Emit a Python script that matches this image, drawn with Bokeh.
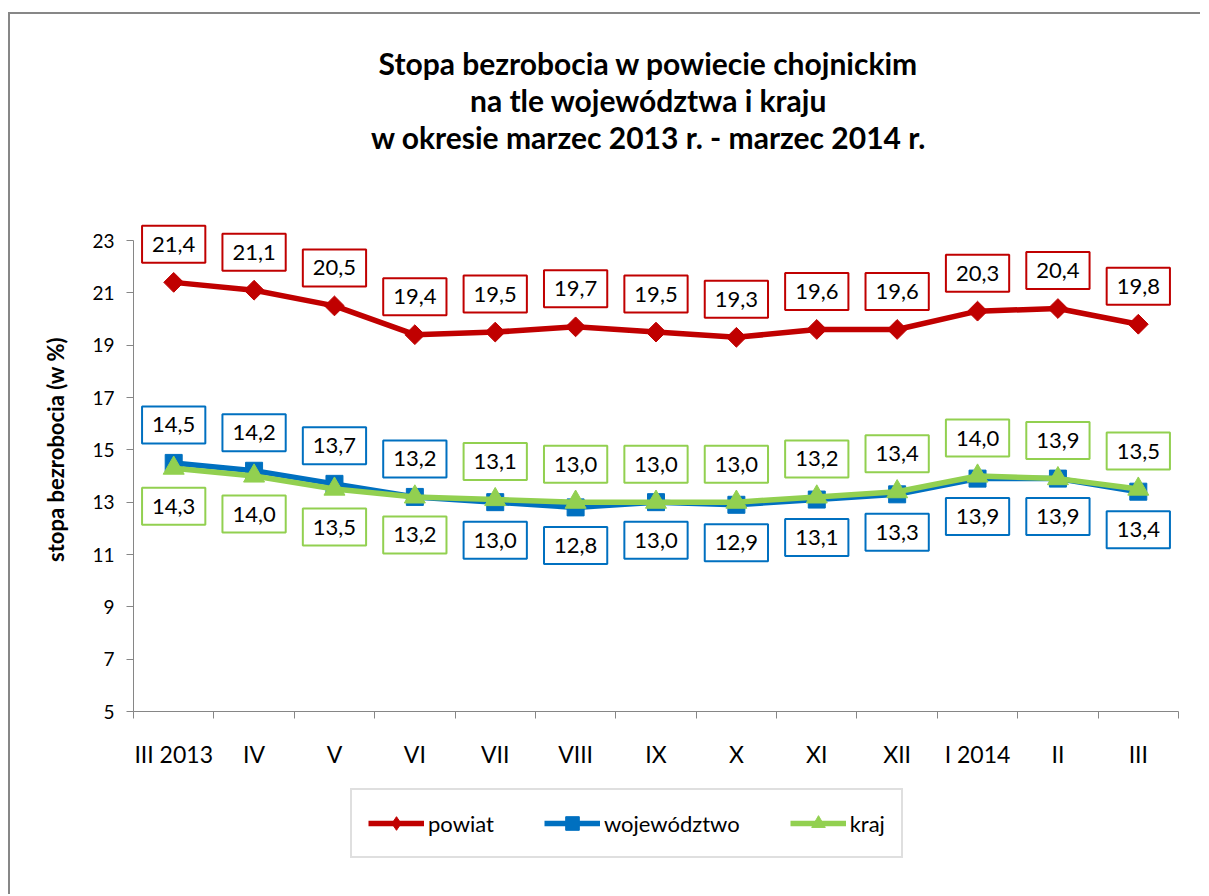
import numpy as np
from bokeh.plotting import figure
from bokeh.layouts import column
from bokeh.models import (ColumnDataSource, Legend, LegendItem, FixedTicker, Range1d,
                          Label, Text)
from bokeh.core.properties import value
from bokeh.embed import file_html
from bokeh.resources import INLINE

# ---------------- data ----------------
months = ["III 2013", "IV", "V", "VI", "VII", "VIII", "IX", "X", "XI", "XII",
          "I 2014", "II", "III"]
powiat = [21.4, 21.1, 20.5, 19.4, 19.5, 19.7, 19.5, 19.3, 19.6, 19.6, 20.3, 20.4, 19.8]
wojewodztwo = [14.5, 14.2, 13.7, 13.2, 13.0, 12.8, 13.0, 12.9, 13.1, 13.3, 13.9, 13.9, 13.4]
kraj = [14.3, 14.0, 13.5, 13.2, 13.1, 13.0, 13.0, 13.0, 13.2, 13.4, 14.0, 13.9, 13.5]
series_names = ["powiat", "województwo", "kraj"]
title_lines = ["Stopa bezrobocia w powiecie chojnickim",
               "na tle województwa i kraju",
               "w okresie marzec 2013 r. - marzec 2014 r."]
y_axis_title = "stopa bezrobocia (w %)"
y_ticks = list(range(5, 24, 2))
y_min, y_max = 5, 23

# ---------------- style / geometry ----------------
RED, BLUE, GREEN = "#C00000", "#0070C0", "#92D050"
AXIS_GRAY = "#868686"
FONT = "Lato"

W = 1190
TITLE_H = 173           # strip holding the three title lines
FRAME_H = 524           # chart frame (value 5 at its bottom, head-room above 23)
CHART_H = FRAME_H + 73
LEGEND_H = 110
PX_PER_UNIT = 471 / (y_max - y_min)
y_top = y_min + FRAME_H / PX_PER_UNIT
n = len(months)
x = np.arange(n) + 0.5


def bare(fig):
    fig.outline_line_color = None
    fig.xgrid.grid_line_color = None
    fig.ygrid.grid_line_color = None
    fig.background_fill_color = "white"
    fig.border_fill_color = "white"


# ---------------- title strip ----------------
p0 = figure(width=W, height=TITLE_H, output_backend="svg", toolbar_location=None,
            x_axis_type=None, y_axis_type=None, x_range=Range1d(0, 1),
            y_range=Range1d(0, 1), min_border_left=0, min_border_right=0,
            min_border_top=0, min_border_bottom=0)
bare(p0)
for line_text, ys in zip(title_lines, [125, 88, 51]):
    p0.add_layout(Label(x=515, y=ys, x_units="screen", y_units="screen",
                        text=line_text, text_align="center", text_baseline="middle",
                        text_font=FONT, text_font_style="bold",
                        text_font_size="30px", text_color="black"))

# ---------------- chart ----------------
p = figure(width=W, height=CHART_H, output_backend="svg", toolbar_location=None,
           x_range=Range1d(0, n), y_range=Range1d(y_min, y_top),
           min_border_left=123, min_border_right=22,
           min_border_top=0, min_border_bottom=CHART_H - FRAME_H)
bare(p)

# x axis: labels at category centres, tick marks between categories
xa = p.xaxis[0]
xa.ticker = FixedTicker(ticks=list(x), minor_ticks=list(range(n + 1)))
xa.major_label_overrides = {float(xi): m for xi, m in zip(x, months)}
xa.major_tick_out = 0
xa.major_tick_in = 0
xa.minor_tick_out = 7
xa.minor_tick_in = 0
xa.minor_tick_line_color = AXIS_GRAY
xa.axis_line_color = AXIS_GRAY
xa.major_label_standoff = 21
xa.major_label_text_font = FONT
xa.major_label_text_font_size = "23px"
xa.major_label_text_color = "black"

ya = p.yaxis[0]
ya.ticker = FixedTicker(ticks=y_ticks, minor_ticks=[])
ya.bounds = (y_min, y_max)
ya.major_tick_out = 7
ya.major_tick_in = 0
ya.major_tick_line_color = AXIS_GRAY
ya.axis_line_color = AXIS_GRAY
ya.major_label_standoff = 12
ya.major_label_text_font = FONT
ya.major_label_text_font_size = "19px"
ya.major_label_text_color = "black"
ya.axis_label = y_axis_title
ya.axis_label_text_font = FONT
ya.axis_label_text_font_style = "bold"
ya.axis_label_text_font_size = "22px"
ya.axis_label_text_color = "black"
ya.axis_label_standoff = 20

LINE_W = 5.5
styles = [
    dict(color=RED, marker="square", angle=np.pi / 4, size=14, legend_marker="diamond"),
    dict(color=BLUE, marker="square", angle=0.0, size=17, legend_marker="square"),
    dict(color=GREEN, marker="triangle", angle=0.0, size=21, legend_marker="triangle"),
]
for vals, st in zip([powiat, wojewodztwo, kraj], styles):
    p.line(x, vals, line_width=LINE_W, color=st["color"], line_join="round")
    p.scatter(x, vals, marker=st["marker"], angle=st["angle"], size=st["size"],
              color=st["color"])

# ---------------- data labels (boxed) ----------------
def fmt(v):
    return f"{v:.1f}".replace(".", ",")

OFF = 38  # px between point and label centre
idx = np.arange(n)
label_specs = [
    (powiat, RED, [-OFF] * n),
    (wojewodztwo, BLUE, [-OFF if i < 4 else OFF for i in idx]),
    (kraj, GREEN, [OFF if i < 4 else -OFF for i in idx]),
]
has_pad = "padding" in Text.properties()
for vals, col, offs in label_specs:
    src = ColumnDataSource(dict(x=x, y=vals, t=[fmt(v) for v in vals], off=offs))
    kw = dict(x="x", y="y", text="t", y_offset="off", source=src,
              text_align="center", text_baseline="middle",
              text_font=value(FONT), text_font_size=value("22px"),
              text_color="black")
    if has_pad:
        kw.update(background_fill_color="white", border_line_color=col,
                  border_line_width=2, padding=(10, 11))
    p.text(**kw)

# ---------------- legend strip ----------------
p2 = figure(width=W, height=LEGEND_H, output_backend="svg", toolbar_location=None,
            x_axis_type=None, y_axis_type=None, x_range=Range1d(0, 1),
            y_range=Range1d(0, 1), min_border_left=0, min_border_right=0,
            min_border_top=0, min_border_bottom=0)
bare(p2)
items = []
for name, st in zip(series_names, styles):
    # legend-only renderers: their single segment lies outside the visible range
    lr = p2.line(x=[-3, -2], y=[-3, -3], line_width=LINE_W, color=st["color"],
                 line_join="round")
    mr = p2.scatter(x=[-3], y=[-3], marker=st["legend_marker"],
                    size=st["size"], color=st["color"])
    items.append(LegendItem(label=name, renderers=[lr, mr]))
legend = Legend(items=items, orientation="horizontal", location=(217, 36),
                glyph_width=56, glyph_height=34, label_height=20, label_standoff=4,
                spacing=50, padding=16, border_line_color="#bfbfbf",
                border_line_width=2, label_text_font=FONT,
                label_text_font_size="22px", label_text_color="black",
                background_fill_color="white", background_fill_alpha=1.0)
p2.add_layout(legend)

layout = column(p0, p, p2, spacing=0,
                styles={"border-left": "2px solid #878787",
                        "border-top": "2px solid #878787",
                        "margin-top": "12px", "margin-left": "8px"})

open("out.html", "w").write(file_html(layout, INLINE))
